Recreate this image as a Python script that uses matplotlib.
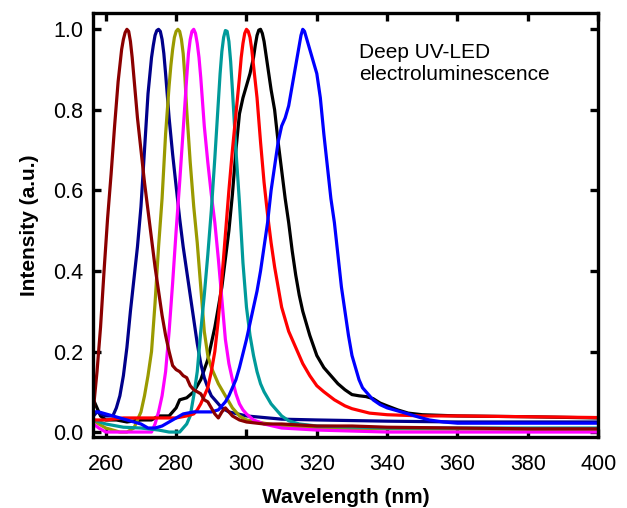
import matplotlib
matplotlib.use("Agg")
import matplotlib.pyplot as plt

plt.rcParams['font.family'] = ['Liberation Sans', 'DejaVu Sans']

# (wavelength nm, normalized EL intensity)
maroon = [(256.5, 0.06), (257.5, 0.15), (258.5, 0.26), (259.5, 0.40), (260.5, 0.53), (261.5, 0.64),
          (262.5, 0.76), (263.5, 0.87), (264.5, 0.95), (265, 0.975), (265.5, 0.992), (266, 1.0),
          (266.5, 0.995), (267, 0.97), (267.5, 0.93), (268, 0.88), (269, 0.78), (270, 0.70), (271, 0.62),
          (272, 0.55), (273, 0.48), (274, 0.41), (275, 0.35), (276, 0.29), (277, 0.24), (278, 0.20),
          (279, 0.165), (280, 0.155), (281, 0.15), (282, 0.14), (283, 0.135), (284, 0.115), (285, 0.105),
          (286, 0.10), (287, 0.095), (288, 0.08), (289, 0.075), (290, 0.06), (291, 0.045), (292, 0.035),
          (293, 0.05), (294, 0.06), (295, 0.05), (296, 0.04), (298, 0.03), (300, 0.025), (305, 0.02),
          (310, 0.02), (320, 0.015), (330, 0.015), (340, 0.012), (360, 0.01), (380, 0.008), (400, 0.008)]

navy = [(256.5, 0.04), (257.5, 0.05), (258.5, 0.045), (260, 0.04), (262, 0.04), (263, 0.06), (264, 0.09),
        (265, 0.14), (266, 0.21), (267, 0.30), (268, 0.38), (269, 0.46), (270, 0.56), (271, 0.70),
        (272, 0.84), (273, 0.93), (273.5, 0.96), (274, 0.985), (274.5, 0.997), (275, 1.0), (275.5, 0.995),
        (276, 0.975), (276.5, 0.94), (277, 0.89), (278, 0.78), (279, 0.69), (280, 0.61), (281, 0.53),
        (282, 0.46), (283, 0.40), (284, 0.34), (285, 0.28), (286, 0.22), (287, 0.17), (288, 0.135),
        (289, 0.11), (290, 0.09), (291, 0.08), (292, 0.07), (293, 0.06), (295, 0.05), (300, 0.04),
        (310, 0.032), (320, 0.03), (340, 0.027), (360, 0.025), (400, 0.025)]

olive = [(256.5, 0.03), (258, 0.02), (260, 0.01), (262, 0.005), (264, 0.0), (266, 0.0), (268, 0.01),
         (269, 0.03), (270, 0.05), (271, 0.09), (272, 0.14), (273, 0.20), (274, 0.32), (275, 0.46),
         (276, 0.58), (277, 0.74), (278, 0.86), (278.5, 0.91), (279, 0.95), (279.5, 0.98), (280, 0.995),
         (280.5, 1.0), (281, 0.995), (281.5, 0.975), (282, 0.94), (282.5, 0.88), (283, 0.80), (284, 0.67),
         (285, 0.56), (286, 0.47), (287, 0.36), (288, 0.25), (289, 0.19), (290, 0.16), (291, 0.14),
         (292, 0.12), (293, 0.105), (294, 0.09), (296, 0.06), (298, 0.04), (300, 0.03), (305, 0.022),
         (310, 0.015), (320, 0.01), (340, 0.008), (400, 0.006)]

magenta = [(256.5, 0.02), (258, 0.01), (260, 0.0), (265, 0.0), (270, 0.0), (273, 0.0), (274, 0.02),
           (275, 0.05), (276, 0.09), (277, 0.15), (278, 0.25), (279, 0.37), (280, 0.50), (281, 0.62),
           (282, 0.75), (283, 0.88), (283.5, 0.94), (284, 0.975), (284.5, 0.995), (285, 1.0), (285.5, 0.99),
           (286, 0.965), (286.5, 0.93), (287, 0.88), (288, 0.76), (289, 0.67), (290, 0.59), (291, 0.52),
           (292, 0.43), (293, 0.33), (294, 0.23), (295, 0.17), (296, 0.13), (297, 0.095), (298, 0.07),
           (299, 0.055), (300, 0.045), (302, 0.03), (305, 0.02), (310, 0.01), (320, 0.005), (340, 0.0),
           (400, 0.0)]

teal = [(256.5, 0.03), (260, 0.02), (265, 0.012), (270, 0.01), (275, 0.005), (278, 0.0), (281, 0.0),
        (282, 0.01), (283, 0.02), (284, 0.04), (285, 0.09), (286, 0.15), (287, 0.25), (288, 0.34),
        (289, 0.44), (290, 0.55), (291, 0.68), (292, 0.82), (292.5, 0.89), (293, 0.945), (293.5, 0.98),
        (294, 0.997), (294.5, 0.995), (295, 0.97), (295.5, 0.92), (296, 0.85), (297, 0.70), (298, 0.57),
        (299, 0.42), (300, 0.31), (301, 0.24), (302, 0.19), (303, 0.15), (304, 0.12), (305, 0.10),
        (306, 0.085), (307, 0.07), (308, 0.06), (310, 0.04), (312, 0.028), (315, 0.02), (320, 0.015),
        (340, 0.01), (400, 0.01)]

red = [(256.5, 0.03), (260, 0.03), (265, 0.035), (270, 0.035), (275, 0.035), (280, 0.035), (283, 0.04),
       (285, 0.045), (286, 0.055), (287, 0.07), (288, 0.09), (289, 0.11), (290, 0.15), (291, 0.20),
       (292, 0.28), (293, 0.38), (294, 0.49), (295, 0.60), (296, 0.70), (297, 0.79), (298, 0.88),
       (298.5, 0.93), (299, 0.965), (299.5, 0.99), (300, 1.0), (300.5, 0.995), (301, 0.98), (301.5, 0.95),
       (302, 0.91), (303, 0.83), (304, 0.72), (305, 0.62), (306, 0.54), (307, 0.47), (308, 0.41),
       (309, 0.36), (310, 0.31), (311, 0.28), (312, 0.25), (314, 0.21), (316, 0.17), (318, 0.14),
       (320, 0.115), (322, 0.10), (325, 0.08), (328, 0.065), (330, 0.058), (335, 0.047), (340, 0.043),
       (350, 0.04), (360, 0.04), (380, 0.038), (400, 0.036)]

black = [(256.5, 0.08), (257.5, 0.06), (258.5, 0.04), (260, 0.03), (263, 0.03), (266, 0.025), (270, 0.03),
         (273, 0.03), (275, 0.04), (278, 0.04), (280, 0.06), (281, 0.08), (283, 0.085), (285, 0.10),
         (287, 0.13), (289, 0.18), (291, 0.26), (293, 0.36), (294, 0.43), (295, 0.50), (296, 0.59),
         (297, 0.70), (298, 0.79), (299, 0.83), (300, 0.86), (301, 0.89), (302, 0.93), (302.5, 0.96),
         (303, 0.985), (303.5, 0.998), (304, 1.0), (304.5, 0.99), (305, 0.97), (305.5, 0.94), (306, 0.91),
         (307, 0.85), (308, 0.80), (309, 0.72), (310, 0.65), (311, 0.58), (312, 0.52), (313, 0.45),
         (314, 0.39), (315, 0.34), (316, 0.30), (317, 0.27), (318, 0.24), (320, 0.19), (322, 0.16),
         (324, 0.14), (326, 0.12), (328, 0.105), (330, 0.093), (332, 0.09), (334, 0.088), (336, 0.083),
         (338, 0.072), (340, 0.065), (343, 0.055), (346, 0.047), (350, 0.043), (360, 0.04), (380, 0.038),
         (400, 0.035)]

blue = [(256.5, 0.05), (258, 0.05), (260, 0.045), (262, 0.04), (264, 0.035), (266, 0.03), (268, 0.025),
        (270, 0.02), (272, 0.01), (274, 0.01), (276, 0.015), (278, 0.025), (280, 0.035), (282, 0.045),
        (285, 0.05), (288, 0.05), (290, 0.05), (292, 0.055), (294, 0.075), (295, 0.09), (296, 0.11),
        (297, 0.13), (298, 0.16), (299, 0.195), (300, 0.23), (301, 0.27), (302, 0.31), (303, 0.35),
        (304, 0.40), (305, 0.46), (306, 0.52), (307, 0.60), (308, 0.66), (309, 0.72), (310, 0.76),
        (311, 0.78), (312, 0.81), (313, 0.86), (314, 0.91), (315, 0.96), (315.5, 0.985), (316, 1.0),
        (316.5, 0.995), (317, 0.98), (318, 0.95), (319, 0.92), (320, 0.89), (321, 0.83), (322, 0.74),
        (323, 0.66), (324, 0.58), (325, 0.52), (326, 0.44), (327, 0.36), (328, 0.30), (329, 0.24),
        (330, 0.19), (331, 0.16), (332, 0.13), (333, 0.11), (334, 0.10), (336, 0.08), (338, 0.068),
        (340, 0.06), (342, 0.055), (344, 0.05), (346, 0.045), (349, 0.037), (352, 0.03), (356, 0.025),
        (360, 0.022), (380, 0.022), (400, 0.022)]

series = [
    (black, 'black'),
    (navy, '#00008b'),
    (olive, '#9a9a00'),
    (magenta, '#ff00ff'),
    (teal, '#009a9a'),
    (red, '#ff0000'),
    (blue, '#0000ff'),
    (maroon, '#8b0000'),
]

x_ticks = [260, 280, 300, 320, 340, 360, 380, 400]
y_ticks = [0.0, 0.2, 0.4, 0.6, 0.8, 1.0]

fig = plt.figure(figsize=(6.27, 5.08), dpi=100)
ax = fig.add_axes([0.148, 0.140, 0.806, 0.834])

for data, col in series:
    wl = [p[0] for p in data]
    inten = [p[1] for p in data]
    ax.plot(wl, inten, color=col, lw=2.3, solid_joinstyle='round', solid_capstyle='round')

ax.set_xlim(256.3, 400)
ax.set_ylim(-0.012, 1.04)
ax.set_xticks(x_ticks)
ax.set_yticks(y_ticks)
ax.set_yticklabels([f'{v:.1f}' for v in y_ticks])

for s in ax.spines.values():
    s.set_linewidth(2.4)
ax.tick_params(direction='in', length=6, width=2.4, top=True, right=True,
               labelsize=15.5)
ax.tick_params(axis='x', pad=12)
ax.tick_params(axis='y', pad=7)

ax.set_xlabel('Wavelength (nm)', fontsize=15, fontweight='bold', labelpad=10)
ax.set_ylabel('Intensity (a.u.)', fontsize=15, fontweight='bold', labelpad=10)

ax.text(332.1, 0.965, 'Deep UV-LED\nelectroluminescence', fontsize=15,
        ha='left', va='top', linespacing=1.2)

fig.savefig('out.png', dpi=100)
